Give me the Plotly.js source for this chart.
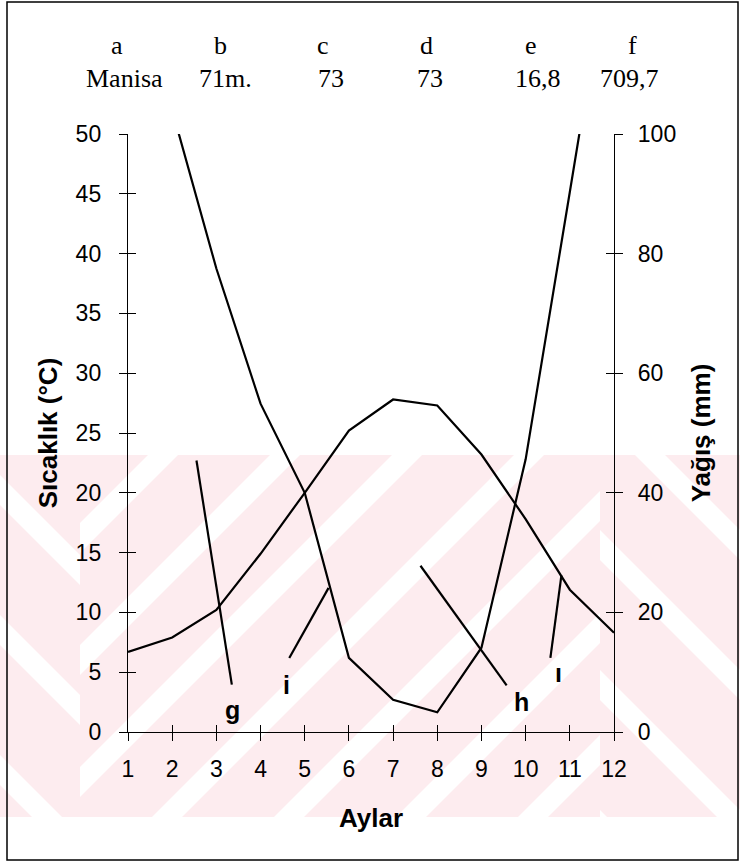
<!DOCTYPE html>
<html>
<head>
<meta charset="utf-8">
<script src="https://cdn.plot.ly/plotly-3.0.1.min.js"></script>
<style>html,body{margin:0;padding:0;background:#fff}#chart{width:740px;height:862px}</style>
</head>
<body>
<div id="chart"></div>
<script>
// ---- data ----
const months = [1, 2, 3, 4, 5, 6, 7, 8, 9, 10, 11, 12];
const temperature = [6.7, 7.9, 10.2, 14.9, 20.0, 25.2, 27.8, 27.3, 23.2, 17.8, 11.9, 8.3];
const precipitation = [126.9, 104.0, 77.5, 54.9, 40.0, 12.4, 5.4, 3.3, 14.1, 45.6, 90.3, 135.3];
const tempTicks = [0, 5, 10, 15, 20, 25, 30, 35, 40, 45, 50];
const precTicks = [0, 20, 40, 60, 80, 100];
const headerKeys = ['a', 'b', 'c', 'd', 'e', 'f'];
const headerValues = ['Manisa', '71m.', '73', '73', '16,8', '709,7'];
const markLabels = ['g', 'i', 'h', 'ı'];

// ---- layout helpers (pixel -> paper) ----
const W = 740, H = 862;
const L = 128, R = 614, T = 134, B = 732;
const px2x = p => (p - L) / (R - L);
const py2y = p => (B - p) / (B - T);

// pointer lines for hand-written labels (data coords: month, °C)
const pointerFrom = [[2.55, 22.7], [5.54, 12.05], [7.62, 13.9], [10.81, 13.1]];
const pointerTo   = [[3.35, 3.96], [4.65, 6.19], [9.57, 3.9], [10.56, 6.19]];
const labelPos    = [[3.37, 1.8], [4.58, 3.95], [9.9, 2.55], [10.75, 4.95]];

// header positions (pixels)
const headerX = [117, 220, 323, 426, 531, 632];
const valueX = [124, 225, 331, 430, 538, 629];

// watermark svg (decorative background)
function watermark() {
  let s = `<svg xmlns="http://www.w3.org/2000/svg" width="${W}" height="${H}" viewBox="0 0 ${W} ${H}">`;
  s += `<defs><clipPath id="band"><rect x="0" y="455" width="${W}" height="362"/></clipPath>`;
  s += `<clipPath id="mid"><rect x="80" y="455" width="520" height="362"/></clipPath>`;
  s += `<clipPath id="rt"><rect x="600" y="455" width="140" height="362"/></clipPath>`;
  s += `<clipPath id="lt"><rect x="0" y="455" width="80" height="362"/></clipPath></defs>`;
  s += `<g clip-path="url(#band)"><rect x="0" y="455" width="${W}" height="362" fill="#fdecef"/>`;
  const hw = 15;
  s += `<g clip-path="url(#mid)">`;
  for (let c = 496; c <= 1600; c += 122) {
    s += `<polygon fill="#fff" points="${c-hw-455},455 ${c+hw-455},455 ${c+hw-817},817 ${c-hw-817},817"/>`;
  }
  s += `</g><g clip-path="url(#rt)">`;
  for (let d = -505; d <= 400; d += 140) {
    s += `<polygon fill="#fff" points="${d-hw+455},455 ${d+hw+455},455 ${d+hw+817},817 ${d-hw+817},817"/>`;
  }
  s += `</g><g clip-path="url(#lt)">`;
  for (let d = -770; d <= 0; d += 140) {
    s += `<polygon fill="#fff" points="${d-hw+455},455 ${d+hw+455},455 ${d+hw+817},817 ${d-hw+817},817"/>`;
  }
  s += `</g></g>`;
  s += `<rect x="7" y="2" width="731" height="858" fill="none" stroke="#000" stroke-width="1.5"/>`;
  s += `</svg>`;
  return 'data:image/svg+xml;charset=utf-8,' + encodeURIComponent(s);
}

const sans = 'Arial, "Liberation Sans", sans-serif';
const serif = '"Times New Roman", "Liberation Serif", serif';
const tickFont = {family: sans, size: 23, color: '#000'};
const titleFont = {family: sans, size: 26, color: '#000', weight: 'bold'};

const traces = [
  {x: months, y: temperature, type: 'scatter', mode: 'lines', name: 'Sıcaklık',
   line: {color: '#000', width: 2.2}, xaxis: 'x', yaxis: 'y', showlegend: false, hoverinfo: 'x+y'},
  {x: months, y: precipitation, type: 'scatter', mode: 'lines', name: 'Yağış',
   line: {color: '#000', width: 2.2}, xaxis: 'x', yaxis: 'y2', showlegend: false, hoverinfo: 'x+y'}
];

const annotations = [];
headerKeys.forEach((k, i) => annotations.push({
  text: k, xref: 'paper', yref: 'paper', x: px2x(headerX[i]), y: py2y(45),
  xanchor: 'center', yanchor: 'middle', showarrow: false,
  font: {family: serif, size: 26, color: '#000'}
}));
headerValues.forEach((v, i) => annotations.push({
  text: v, xref: 'paper', yref: 'paper', x: px2x(valueX[i]), y: py2y(79),
  xanchor: 'center', yanchor: 'middle', showarrow: false,
  font: {family: serif, size: 26, color: '#000'}
}));
markLabels.forEach((m, i) => annotations.push({
  text: '<b>' + m + '</b>', xref: 'x', yref: 'y', x: labelPos[i][0], y: labelPos[i][1],
  xanchor: 'center', yanchor: 'middle', showarrow: false,
  font: {family: sans, size: 25, color: '#000'}
}));

const shapes = pointerFrom.map((p, i) => ({
  type: 'line', xref: 'x', yref: 'y', x0: p[0], y0: p[1], x1: pointerTo[i][0], y1: pointerTo[i][1],
  line: {color: '#000', width: 2.2}
}));

const layout = {
  width: W, height: H,
  margin: {l: L, r: W - R, t: T, b: H - B, pad: 0},
  paper_bgcolor: '#fff', plot_bgcolor: 'rgba(0,0,0,0)',
  showlegend: false,
  xaxis: {range: [1, 12], tickvals: months, ticktext: months.map(String), ticks: 'outside', ticklen: 8,
    tickcolor: '#000', tickwidth: 1, showline: true, linecolor: '#000', linewidth: 1.2,
    showgrid: false, zeroline: false, tickfont: tickFont, ticklabelstandoff: 8,
    title: {text: 'Aylar', font: titleFont, standoff: 28}},
  xaxis2: {range: [1, 12], tickvals: months, ticks: 'inside', ticklen: 7, tickcolor: '#000',
    overlaying: 'x', anchor: 'y', showticklabels: false, showgrid: false, zeroline: false, showline: false},
  yaxis: {range: [0, 50], tickvals: tempTicks, ticks: 'outside', ticklen: 8, tickcolor: '#000',
    showline: true, linecolor: '#000', linewidth: 1.2, showgrid: false, zeroline: false,
    tickfont: tickFont, ticklabelstandoff: 13,
    title: {text: 'Sıcaklık (°C)', font: titleFont, standoff: 10}},
  yaxis3: {range: [0, 50], tickvals: tempTicks, ticks: 'inside', ticklen: 8, tickcolor: '#000',
    overlaying: 'y', anchor: 'x', side: 'left', showticklabels: false, showgrid: false, zeroline: false, showline: false},
  yaxis2: {range: [0, 100], tickvals: precTicks, ticks: 'outside', ticklen: 8, tickcolor: '#000',
    overlaying: 'y', side: 'right', anchor: 'x', showline: true, linecolor: '#000', linewidth: 1.2,
    showgrid: false, zeroline: false, tickfont: tickFont, ticklabelstandoff: 10,
    title: {text: 'Yağış (mm)', font: titleFont, standoff: 16}},
  yaxis4: {range: [0, 100], tickvals: precTicks, ticks: 'inside', ticklen: 8, tickcolor: '#000',
    overlaying: 'y', side: 'right', anchor: 'x', showticklabels: false, showgrid: false, zeroline: false, showline: false},
  annotations: annotations,
  shapes: shapes,
  images: [{source: watermark(), xref: 'paper', yref: 'paper', x: px2x(0), y: py2y(0),
    sizex: W / (R - L), sizey: H / (B - T), xanchor: 'left', yanchor: 'top',
    sizing: 'stretch', layer: 'below'}]
};

// dummy traces to activate the tick-only overlay axes
traces.push({x: [1], y: [null], xaxis: 'x2', yaxis: 'y3', type: 'scatter', mode: 'lines', showlegend: false, hoverinfo: 'skip'});
traces.push({x: [1], y: [null], xaxis: 'x', yaxis: 'y4', type: 'scatter', mode: 'lines', showlegend: false, hoverinfo: 'skip'});

Plotly.newPlot('chart', traces, layout, {displayModeBar: false, staticPlot: true});
</script>
</body>
</html>
